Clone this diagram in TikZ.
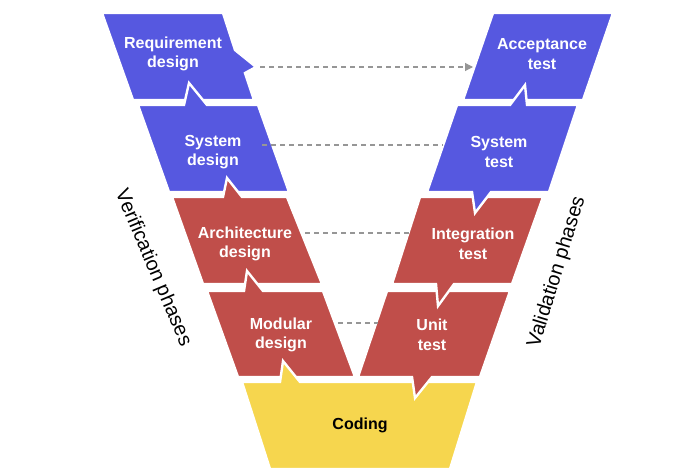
\documentclass[tikz,border=0pt]{standalone}
\usepackage{fontspec}
\setmainfont{Liberation Sans}
\usetikzlibrary{arrows.meta}
\definecolor{vblue}{RGB}{86,88,224}
\definecolor{vred}{RGB}{192,78,74}
\definecolor{vyellow}{RGB}{246,214,78}
\definecolor{vgray}{RGB}{150,150,150}
\begin{document}
\begin{tikzpicture}[x=1pt,y=-1pt,
  blk/.style={draw=white, line width=2.4pt, line join=miter},
  lbl/.style={text=white, font=\fontsize{16}{19.5}\selectfont\bfseries, align=center, inner sep=0pt},
  conn/.style={draw=vgray, line width=1.1pt, dash pattern=on 5pt off 4pt},
  phase/.style={font=\fontsize{20}{22}\selectfont, inner sep=0pt}
]
\useasboundingbox (0,0) rectangle (695,474);
% left arm
\filldraw[blk, fill=vblue] (102,13) -- (223,13) -- (235,50) -- (256,67) -- (245,73) -- (254,100) -- (133,100) -- cycle;
\filldraw[blk, fill=vblue] (138,105) -- (184,105) -- (189,83) -- (207,105) -- (258,105) -- (289,192) -- (169,192) -- cycle;
\filldraw[blk, fill=vred] (172,197) -- (223,197) -- (227,178) -- (242,197) -- (287,197) -- (322,284) -- (203,284) -- cycle;
\filldraw[blk, fill=vred] (207,291) -- (244,291) -- (247,271) -- (263,291) -- (323,291) -- (355,377) -- (238,377) -- cycle;
% coding
\filldraw[blk, fill=vyellow] (242,382) -- (280,382) -- (283,361) -- (300,382) -- (477,382) -- (450,469) -- (270,469) -- cycle;
% right arm
\filldraw[blk, fill=vred] (387,291) -- (510,291) -- (480,377) -- (432,377) -- (415,398) -- (412,377) -- (358,377) -- cycle;
\filldraw[blk, fill=vred] (420,197) -- (543,197) -- (512,284) -- (454,284) -- (438,306) -- (436,284) -- (392,284) -- cycle;
\filldraw[blk, fill=vblue] (493,13) -- (613,13) -- (583,100) -- (463,100) -- cycle;
\filldraw[blk, fill=vblue] (457,105) -- (510,105) -- (525,85) -- (527,105) -- (578,105) -- (549,192) -- (491,192) -- (475,213) -- (472,192) -- (427,192) -- cycle;
% labels
\node[lbl] (req) at (173,54) {Requirement\\design};
\node[lbl] (sysd) at (213,152) {System\\design};
\node[lbl] (arch) at (245,244) {Architecture\\design};
\node[lbl] (mod) at (281,335) {Modular\\design};
\node[lbl] (acc) at (542,54) {Acceptance\\test};
\node[lbl] (syst) at (499,152) {System\\test};
\node[lbl] (integ) at (473,244) {Integration\\test};
\node[lbl] (unit) at (432,335) {Unit\\test};
\node[lbl, text=black] (coding) at (360,425) {Coding};
\node[phase, rotate=-67] (verif) at (153,268) {Verification phases};
\node[phase, rotate=73] (valid) at (557,272) {Validation phases};
% connectors
\coordinate (r1) at (260,67);
\coordinate (r2) at (473,67);
\coordinate (s1) at (262,145);
\coordinate (s2) at (443,145);
\coordinate (a1) at (305,233);
\coordinate (a2) at (412,233);
\coordinate (m1) at (338,323);
\coordinate (m2) at (378,323);
\draw[conn, -{Triangle[length=8pt,width=8pt]}] (r1) -- (r2);
\draw[conn] (s1) -- (s2);
\draw[conn] (a1) -- (a2);
\draw[conn] (m1) -- (m2);
\end{tikzpicture}
\end{document}
